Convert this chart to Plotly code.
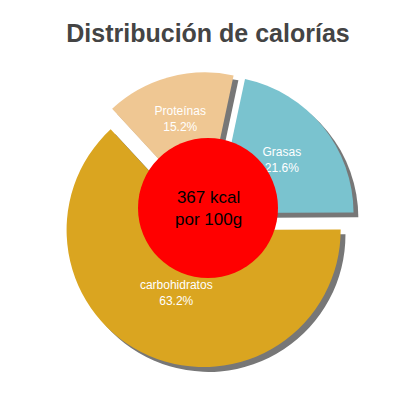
import plotly.graph_objects as go

labels = ["Grasas", "carbohidratos", "Proteínas"]
values = [21.6, 63.2, 15.2]
colors = ["#7ac3cf", "#daa520", "#efc793"]
center_text = "367 kcal<br>por 100g"

pull = [0.08, 0.08, 0.08]
dom_x = [0.13, 0.87]
dom_y = [0.08, 0.86]
sx, sy = 0.012, -0.012

fig = go.Figure()
# shadow
fig.add_trace(go.Pie(
    labels=labels, values=values, sort=False, direction="clockwise", rotation=12,
    hole=0.0, pull=pull, marker=dict(colors=["#777"] * 3),
    textinfo="none", hoverinfo="skip", showlegend=False,
    domain=dict(x=[dom_x[0] + sx, dom_x[1] + sx], y=[dom_y[0] + sy, dom_y[1] + sy]),
))
fig.add_trace(go.Pie(
    labels=labels, values=values, sort=False, direction="clockwise", rotation=12,
    hole=0.0, pull=pull, marker=dict(colors=colors),
    texttemplate="%{label}<br>%{percent:.1%}", textposition="inside",
    insidetextorientation="horizontal",
    textfont=dict(family="Liberation Sans", size=12, color="white"),
    showlegend=False, domain=dict(x=dom_x, y=dom_y),
))
fig.add_shape(type="circle", xref="paper", yref="paper",
              x0=0.325, x1=0.675, y0=0.325, y1=0.675,
              fillcolor="red", line=dict(width=0))
fig.add_annotation(text=center_text, x=0.5, y=0.5, xref="paper", yref="paper",
                   showarrow=False, font=dict(family="Liberation Sans", size=17, color="black"))
fig.update_layout(
    width=400, height=400, margin=dict(l=0, r=0, t=0, b=0),
    paper_bgcolor="white",
    title=dict(text="<b>Distribución de calorías</b>", x=0.5, y=0.96, xanchor="center",
               font=dict(family="Liberation Sans", size=25, color="#444")),
)
fig.write_html("out.html")
